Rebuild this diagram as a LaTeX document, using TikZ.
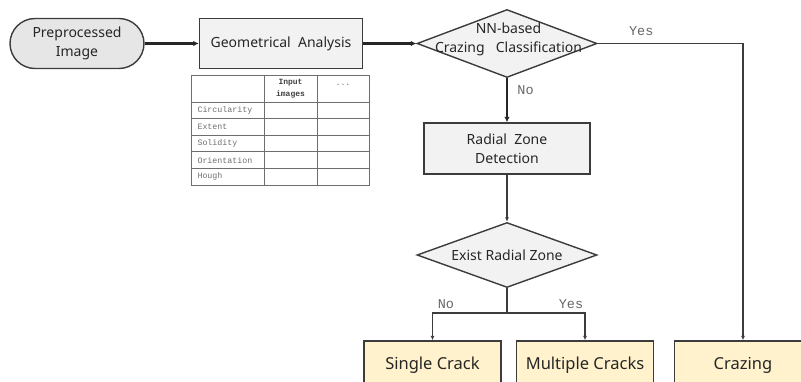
\documentclass[tikz,border=0pt]{standalone}
\usepackage{fontspec}
\setmainfont{Noto Sans}
\setmonofont{Liberation Mono}
\usetikzlibrary{shapes.geometric,arrows.meta}
\definecolor{linec}{HTML}{3C3C3C}
\definecolor{boxfill}{HTML}{F2F2F2}
\definecolor{termfill}{HTML}{E6E6E6}
\definecolor{resfill}{HTML}{FFF2CC}
\definecolor{lblc}{HTML}{666666}
\definecolor{tabc}{HTML}{6E6E6E}
\begin{document}
\begin{tikzpicture}[x=1pt,y=-1pt,
    every node/.style={font=\fontsize{14}{19}\selectfont, text=black!85},
    box/.style={draw=linec, line width=1.4pt, align=center, inner sep=0pt},
    terminal/.style={box, fill=termfill, rounded corners=25pt, minimum width=134pt, minimum height=50pt},
    process/.style={box, fill=boxfill, minimum height=50pt},
    decision/.style={box, diamond, fill=boxfill, aspect=2.8, minimum width=180pt},
    result/.style={box, fill=resfill, minimum width=137pt, minimum height=48pt, font=\fontsize{16.5}{20}\selectfont},
    flow/.style={-{Latex[length=5.5pt,width=5.5pt]}, line width=2.3pt, draw=black!85},
    thinflow/.style={-{Latex[length=4.5pt,width=4pt]}, line width=1.1pt, draw=linec},
    yn/.style={font=\ttfamily\fontsize{13.5}{16}\selectfont, text=lblc},
    cell/.style={font=\ttfamily\fontsize{8.3}{10}\selectfont, text=tabc}]
  \clip (0,0) rectangle (801,381);
  % flow nodes
  \node[terminal] (pre) at (77,43.5) {Preprocessed\\Image};
  \node[process, minimum width=163pt] (geo) at (281,43.5) {Geometrical\ \ Analysis};
  \node[decision, minimum height=68pt] (nn) at (507,43.5) {};
  \node[align=center] (nntext) at (508.5,39) {NN-based\\Crazing\hspace{0.8em}Classification};
  \node[process, minimum width=166pt, minimum height=51pt] (radial) at (507,148.5) {Radial\ \ Zone\\Detection};
  \node[decision, minimum height=65pt] (exist) at (507,255) {Exist\ Radial\ Zone};
  \node[result] (single) at (432.5,365) {Single Crack};
  \node[result] (multi) at (585,365) {Multiple Cracks};
  \node[result] (crazing) at (743,365) {Crazing};
  \coordinate (split) at (507,313);
  % connectors
  \draw[flow] (pre) -- (geo);
  \draw[flow] (geo) -- (nn);
  \draw[flow] (nn) -- node[yn, right, pos=0.28, xshift=6pt] {No} (radial);
  \draw[thinflow] (nn.east) -| node[yn, above, pos=0.15, yshift=4pt] {Yes} (crazing);
  \draw[thinflow] (radial) -- (exist);
  \draw[line width=1.1pt, draw=linec] (exist.south) -- (split);
  \draw[thinflow] (split) -| node[yn, above, pos=0.41] {No} (single);
  \draw[thinflow] (split) -| node[yn, above, pos=0.41] {Yes} (multi);
  % feature table
  \draw[draw=tabc, line width=0.8pt] (191,75) rectangle (369,185);
  \foreach \y in {102,118.6,135.2,151.8,168.4}
    \draw[draw=tabc, line width=0.8pt] (191,\y) -- (369,\y);
  \foreach \x in {264,317}
    \draw[draw=tabc, line width=0.8pt] (\x,75) -- (\x,185);
  \node[cell, font=\ttfamily\bfseries\fontsize{8}{11.5}\selectfont, text=black!75, align=center] (colin) at (290.5,88.5) {Input\\images};
  \node[cell] (coldots) at (343,85) {...};
  \foreach \name [count=\i] in {Circularity,Extent,Solidity,Orientation,Hough}
    \node[cell, anchor=west] (row\i) at (194,102+16.6*\i-8.3) {\name};
\end{tikzpicture}
\end{document}
